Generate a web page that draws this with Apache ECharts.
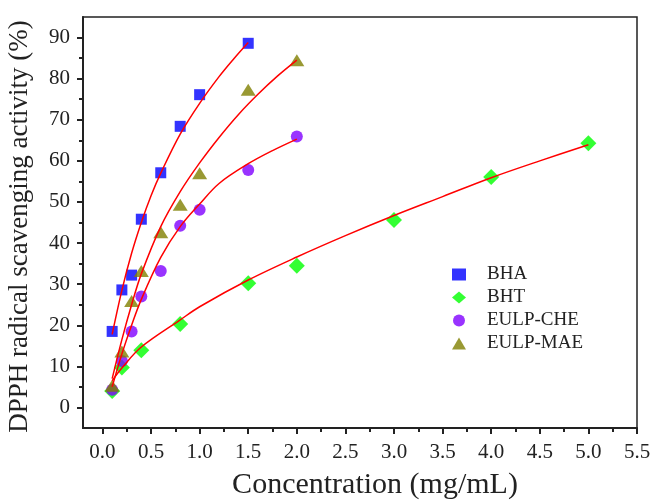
<!DOCTYPE html>
<html>
<head>
<meta charset="utf-8">
<script src="https://cdn.jsdelivr.net/npm/echarts@6/dist/echarts.min.js"></script>
<style>
  html, body { margin: 0; padding: 0; background: #fff; }
  #chart { width: 654px; height: 502px; }
</style>
</head>
<body>
<div id="chart"></div>
<script>
(function(){

// measured points
var bhaX = [0.1, 0.2, 0.3, 0.4, 0.6, 0.8, 1.0, 1.5];
var bhaY = [18.5, 28.6, 32.2, 45.8, 57.1, 68.4, 76.1, 88.6];

var bhtX = [0.1, 0.2, 0.4, 0.8, 1.5, 2.0, 3.0, 4.0, 5.0];
var bhtY = [4.0, 9.7, 13.9, 20.3, 30.2, 34.5, 45.6, 56.1, 64.3];

var cheX = [0.1, 0.2, 0.3, 0.4, 0.6, 0.8, 1.0, 1.5, 2.0];
var cheY = [4.3, 11.3, 18.5, 27.0, 33.2, 44.2, 48.1, 57.8, 65.9];

var maeX = [0.1, 0.2, 0.3, 0.4, 0.6, 0.8, 1.0, 1.5, 2.0];
var maeY = [5.3, 13.6, 25.9, 33.2, 42.6, 49.3, 57.0, 77.3, 84.5];

// fitted curves
var fitBhaX = [0.1, 0.2, 0.3, 0.4, 0.5, 0.6, 0.8, 1.0, 1.2, 1.35, 1.5];
var fitBhaY = [17.8, 28.5, 37.5, 45.0, 51.5, 57.0, 66.5, 74.0, 80.5, 84.8, 88.8];

var fitBhtX = [0.1, 0.2, 0.4, 0.8, 1.0, 1.5, 2.0, 2.5, 3.0, 3.5, 4.0, 4.5, 5.0];
var fitBhtY = [6.5, 9.6, 14.7, 21.3, 24.5, 31.0, 36.6, 41.8, 46.7, 51.3, 55.9, 60.0, 63.9];

var fitCheX = [0.1, 0.2, 0.3, 0.4, 0.6, 0.8, 1.0, 1.2, 1.5, 1.75, 2.0];
var fitCheY = [5.0, 13.0, 20.0, 26.3, 36.5, 44.0, 49.5, 54.5, 59.3, 62.5, 65.3];

var fitMaeX = [0.1, 0.2, 0.3, 0.4, 0.6, 0.8, 1.0, 1.2, 1.4, 1.6, 1.8, 2.0];
var fitMaeY = [7.0, 16.5, 25.0, 32.5, 44.0, 52.5, 59.5, 65.7, 71.3, 76.2, 80.6, 84.5];

// ticks
var xTicks = [0, 0.5, 1.0, 1.5, 2.0, 2.5, 3.0, 3.5, 4.0, 4.5, 5.0, 5.5];
var xMinor = [0.25, 0.75, 1.25, 1.75, 2.25, 2.75, 3.25, 3.75, 4.25, 4.75, 5.25];
var yTicks = [0, 10, 20, 30, 40, 50, 60, 70, 80, 90];
var yMinor = [5, 15, 25, 35, 45, 55, 65, 75, 85];

function pairs(xs, ys) {
    return xs.map(function (x, i) { return [x, ys[i]]; });
}

var font = 'Liberation Serif';

function fitLine(xs, ys) {
    return {
        type: 'line',
        smooth: 0.35,
        showSymbol: false,
        z: 3,
        lineStyle: { color: '#ff0000', width: 1.5 },
        data: pairs(xs, ys)
    };
}

var option = {
    animation: false,
    backgroundColor: '#ffffff',
    grid: {
        left: 83,
        top: 17,
        right: 17,
        bottom: 74,
        containLabel: false,
        outerBoundsMode: 'none',
        show: true,
        borderColor: '#222',
        borderWidth: 1.5
    },
    legend: {
        orient: 'vertical',
        left: 447,
        top: 260,
        itemGap: 4,
        itemWidth: 14,
        itemHeight: 12,
        data: ['BHA', 'BHT', 'EULP-CHE', 'EULP-MAE'],
        textStyle: {
            fontFamily: font,
            fontSize: 19,
            color: '#222',
            padding: [0, 0, 0, 16]
        }
    },
    xAxis: [
        {
            type: 'value',
            min: -0.2,
            max: 5.5,
            name: 'Concentration (mg/mL)',
            nameLocation: 'middle',
            nameGap: 42,
            nameTextStyle: {
                fontFamily: font,
                fontSize: 30,
                color: '#222',
                padding: [0, 0, 0, 30]
            },
            splitLine: { show: false },
            axisLine: { onZero: false, lineStyle: { color: '#222', width: 2 } },
            axisTick: {
                customValues: xTicks,
                length: 6,
                lineStyle: { color: '#222', width: 2 }
            },
            axisLabel: {
                customValues: xTicks,
                margin: 14,
                fontFamily: font,
                fontSize: 21,
                color: '#222',
                formatter: function (v) { return v.toFixed(1); }
            }
        },
        {
            type: 'value',
            min: -0.2,
            max: 5.5,
            position: 'bottom',
            splitLine: { show: false },
            axisLine: { show: false, onZero: false },
            axisLabel: { show: false },
            axisTick: {
                customValues: xMinor,
                length: 4,
                lineStyle: { color: '#222', width: 2 }
            }
        }
    ],
    yAxis: [
        {
            type: 'value',
            min: -5,
            max: 95,
            name: 'DPPH radical scavenging activity (%)',
            nameLocation: 'middle',
            nameGap: 50,
            nameTextStyle: {
                fontFamily: font,
                fontSize: 27,
                color: '#222',
                padding: [0, 8, 0, 0]
            },
            splitLine: { show: false },
            axisLine: { onZero: false, lineStyle: { color: '#222', width: 2 } },
            axisTick: {
                customValues: yTicks,
                length: 6,
                lineStyle: { color: '#222', width: 2 }
            },
            axisLabel: {
                customValues: yTicks,
                margin: 13,
                fontFamily: font,
                fontSize: 21,
                color: '#222'
            }
        },
        {
            type: 'value',
            min: -5,
            max: 95,
            position: 'left',
            splitLine: { show: false },
            axisLine: { show: false, onZero: false },
            axisLabel: { show: false },
            axisTick: {
                customValues: yMinor,
                length: 4,
                lineStyle: { color: '#222', width: 2 }
            }
        }
    ],
    series: [
        {
            name: 'BHA',
            type: 'scatter',
            symbol: 'rect',
            symbolSize: 11,
            itemStyle: { color: '#0000ff' },
            data: pairs(bhaX, bhaY),
            z: 2
        },
        {
            name: 'BHT',
            type: 'scatter',
            symbol: 'diamond',
            symbolSize: [16, 16],
            itemStyle: { color: '#00ff00' },
            data: pairs(bhtX, bhtY),
            z: 2
        },
        {
            name: 'EULP-CHE',
            type: 'scatter',
            symbol: 'circle',
            symbolSize: 12,
            itemStyle: { color: '#8000ff' },
            data: pairs(cheX, cheY),
            z: 2
        },
        {
            name: 'EULP-MAE',
            type: 'scatter',
            symbol: 'triangle',
            symbolSize: [15, 12],
            itemStyle: { color: '#808000' },
            data: pairs(maeX, maeY),
            z: 2
        },
        fitLine(fitBhaX, fitBhaY),
        fitLine(fitBhtX, fitBhtY),
        fitLine(fitCheX, fitCheY),
        fitLine(fitMaeX, fitMaeY)
    ]
};

var myChart = echarts.init(document.getElementById('chart'));
myChart.setOption(option);

})();
</script>
</body>
</html>
